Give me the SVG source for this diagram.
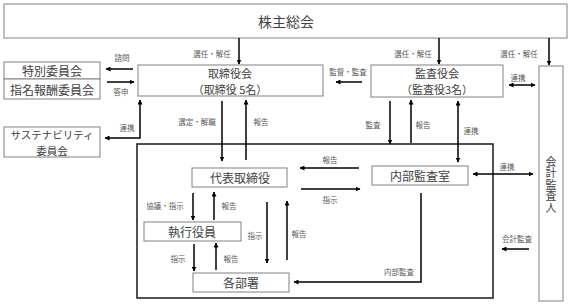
<svg xmlns="http://www.w3.org/2000/svg" width="573" height="305" viewBox="0 0 573 305">
<defs>
<marker id="ah" viewBox="0 0 10 10" refX="9" refY="5" markerWidth="5" markerHeight="5" markerUnits="userSpaceOnUse" orient="auto-start-reverse">
<path d="M0,0 L10,5 L0,10 z" fill="#000"/>
</marker>
</defs>
<style>
.box{fill:#fff;stroke:#808080;stroke-width:1}
.outer{fill:none;stroke:#262626;stroke-width:1.6}
.t{font-family:"Noto Sans CJK JP","Noto Sans CJK SC",sans-serif;fill:#404040;text-anchor:middle;dominant-baseline:central}
.b{font-size:12px}
.m{font-size:11px}
.s{font-size:10.5px}
.v{font-size:11px;writing-mode:vertical-rl;letter-spacing:0.5px}
.big{font-size:14px}
.lb{font-family:"Noto Sans CJK JP","Noto Sans CJK SC",sans-serif;font-size:7.5px;fill:#595959;text-anchor:middle;dominant-baseline:central}
.a{fill:none;stroke:#000;stroke-width:1.5;marker-end:url(#ah)}
.d{fill:none;stroke:#000;stroke-width:1.5;marker-end:url(#ah);marker-start:url(#ah)}
</style>
<rect width="573" height="305" fill="#fff"/>
<rect class="outer" x="137" y="144" width="356" height="154"/>
<g id="shareholders"><rect class="box" x="4" y="4" width="563" height="34"/><text class="t big" x="286" y="21">株主総会</text></g>
<g id="board"><rect class="box" x="138" y="65" width="185" height="31"/><text class="t m" x="230" y="73">取締役会<tspan x="230" dy="16">（取締役 5名）</tspan></text></g>
<g id="auditboard"><rect class="box" x="371" y="65" width="132" height="32"/><text class="t m" x="437" y="73">監査役会<tspan x="437" dy="16">（監査役3名）</tspan></text></g>
<g id="accountant"><rect class="box" x="539" y="66" width="24" height="235"/><text class="t v" x="551" y="185">会計監査人</text></g>
<g id="special"><rect class="box" x="4" y="62" width="96" height="17"/><text class="t b" x="52" y="70.5">特別委員会</text></g>
<g id="nomination"><rect class="box" x="4" y="79" width="96" height="20"/><text class="t b" x="52" y="89">指名報酬委員会</text></g>
<g id="sustain"><rect class="box" x="4" y="127" width="96" height="30"/><text class="t s" x="52" y="134">サステナビリティ<tspan x="52" dy="15.5">委員会</tspan></text></g>
<g id="ceo"><rect class="box" x="192" y="168" width="95" height="19"/><text class="t b" x="240" y="177.5">代表取締役</text></g>
<g id="exec"><rect class="box" x="144" y="222" width="97" height="19"/><text class="t b" x="192" y="231.5">執行役員</text></g>
<g id="depts"><rect class="box" x="193" y="273" width="96" height="19"/><text class="t b" x="241" y="282.5">各部署</text></g>
<g id="internal"><rect class="box" x="372" y="166" width="96" height="19"/><text class="t b" x="420" y="175.5">内部監査室</text></g>
<g id="connectors">
<line class="a" x1="239" y1="38" x2="239" y2="64"/>
<line class="a" x1="439" y1="38" x2="439" y2="64"/>
<line class="a" x1="549" y1="38" x2="549" y2="65"/>
<line class="a" x1="133" y1="69" x2="106" y2="69"/>
<line class="a" x1="107" y1="82" x2="134" y2="82"/>
<polyline class="d" points="140,100 140,138 105,138"/>
<line class="a" x1="222" y1="101" x2="222" y2="161"/>
<line class="a" x1="246" y1="160" x2="246" y2="100"/>
<line class="a" x1="362" y1="82" x2="336" y2="82"/>
<line class="d" x1="509" y1="85" x2="535" y2="85"/>
<line class="a" x1="390" y1="101" x2="390" y2="144"/>
<line class="a" x1="411" y1="143" x2="411" y2="100"/>
<line class="d" x1="458" y1="101" x2="458" y2="162"/>
<line class="a" x1="359" y1="168" x2="300" y2="168"/>
<line class="a" x1="301" y1="189" x2="360" y2="189"/>
<line class="d" x1="473" y1="174" x2="533" y2="174"/>
<line class="a" x1="529" y1="249" x2="502" y2="249"/>
<polyline class="a" points="421,193 421,282 294,282"/>
<line class="a" x1="193" y1="193" x2="193" y2="220"/>
<line class="a" x1="214" y1="220" x2="214" y2="192"/>
<line class="a" x1="194" y1="244" x2="194" y2="271"/>
<line class="a" x1="216" y1="270" x2="216" y2="243"/>
<line class="a" x1="267" y1="202" x2="267" y2="263"/>
<line class="a" x1="287" y1="260" x2="287" y2="201"/>
</g>
<g id="labels">
<text class="lb" x="212" y="53">選任・解任</text>
<text class="lb" x="413" y="53">選任・解任</text>
<text class="lb" x="519" y="53">選任・解任</text>
<text class="lb" x="122" y="57">諮問</text>
<text class="lb" x="121" y="91">答申</text>
<text class="lb" x="127" y="127">連携</text>
<text class="lb" x="197" y="121">選定・解職</text>
<text class="lb" x="261" y="121">報告</text>
<text class="lb" x="348" y="71">監督・監査</text>
<text class="lb" x="518" y="77">連携</text>
<text class="lb" x="373" y="124">監査</text>
<text class="lb" x="423" y="124">報告</text>
<text class="lb" x="471" y="130">連携</text>
<text class="lb" x="330" y="159">報告</text>
<text class="lb" x="330" y="199">指示</text>
<text class="lb" x="507" y="166">連携</text>
<text class="lb" x="517" y="238">会計監査</text>
<text class="lb" x="399" y="271">内部監査</text>
<text class="lb" x="165" y="205">協議・指示</text>
<text class="lb" x="229" y="205">報告</text>
<text class="lb" x="178" y="258">指示</text>
<text class="lb" x="231" y="258">報告</text>
<text class="lb" x="255" y="235">指示</text>
<text class="lb" x="299" y="233">報告</text>
</g>
</svg>
